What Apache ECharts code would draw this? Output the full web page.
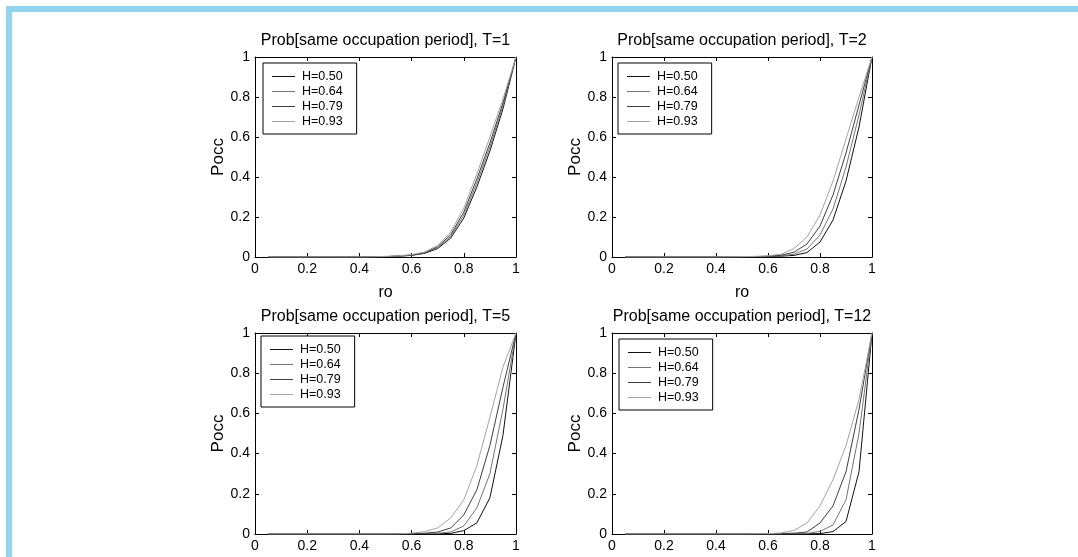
<!DOCTYPE html>
<html><head><meta charset="utf-8">
<script src="https://cdn.jsdelivr.net/npm/echarts@6/dist/echarts.min.js"></script>
<style>html,body{margin:0;padding:0;background:#fff}#c{width:1078px;height:557px}</style>
</head><body><div id="c"></div>
<script>
// ---- data ----
const ro = [0.05,0.10,0.15,0.20,0.25,0.30,0.35,0.40,0.45,0.50,0.55,0.60,0.65,0.70,0.75,0.80,0.85,0.90,0.95,1.00];
const hLabels = ['H=0.50','H=0.64','H=0.79','H=0.93'];
const panelTitles = ['Prob[same occupation period], T=1','Prob[same occupation period], T=2','Prob[same occupation period], T=5','Prob[same occupation period], T=12'];
const xName = 'ro';
const yName = 'Pocc';

const t1_h050 = [0,0,0,0,0,0,0,0,0.001,0.002,0.004,0.008,0.018,0.042,0.095,0.195,0.350,0.530,0.740,1];
const t1_h064 = [0,0,0,0,0,0,0,0,0.001,0.002,0.004,0.009,0.020,0.046,0.103,0.210,0.370,0.550,0.755,1];
const t1_h079 = [0,0,0,0,0,0,0,0,0.001,0.002,0.005,0.010,0.022,0.051,0.112,0.225,0.390,0.570,0.770,1];
const t1_h093 = [0,0,0,0,0,0,0,0,0.001,0.003,0.006,0.012,0.025,0.058,0.125,0.245,0.415,0.600,0.790,1];

const t2_h050 = [0,0,0,0,0,0,0,0,0,0.001,0.001,0.002,0.004,0.008,0.022,0.075,0.185,0.380,0.650,1];
const t2_h064 = [0,0,0,0,0,0,0,0,0,0.001,0.002,0.003,0.006,0.014,0.040,0.110,0.240,0.450,0.710,1];
const t2_h079 = [0,0,0,0,0,0,0,0,0,0.001,0.002,0.004,0.009,0.024,0.065,0.155,0.310,0.520,0.760,1];
const t2_h093 = [0,0,0,0,0,0,0,0,0.001,0.002,0.003,0.006,0.014,0.042,0.100,0.210,0.380,0.590,0.800,1];

const t5_h050 = [0,0,0,0,0,0,0,0,0,0,0,0,0.001,0.001,0.003,0.017,0.055,0.180,0.490,1];
const t5_h064 = [0,0,0,0,0,0,0,0,0,0,0,0.001,0.002,0.004,0.010,0.040,0.130,0.300,0.620,1];
const t5_h079 = [0,0,0,0,0,0,0,0,0,0,0.001,0.002,0.004,0.010,0.030,0.095,0.220,0.440,0.730,1];
const t5_h093 = [0,0,0,0,0,0,0,0,0,0,0.001,0.004,0.012,0.030,0.080,0.170,0.340,0.580,0.830,1];

const t12_h050 = [0,0,0,0,0,0,0,0,0,0,0,0,0,0,0.001,0.002,0.012,0.062,0.310,1];
const t12_h064 = [0,0,0,0,0,0,0,0,0,0,0,0,0,0.001,0.003,0.013,0.045,0.170,0.500,1];
const t12_h079 = [0,0,0,0,0,0,0,0,0,0,0,0.001,0.002,0.004,0.010,0.055,0.140,0.310,0.620,1];
const t12_h093 = [0,0,0,0,0,0,0,0,0,0,0.001,0.002,0.005,0.018,0.055,0.140,0.270,0.440,0.670,1];

const panels = [
  [t1_h050, t1_h064, t1_h079, t1_h093],
  [t2_h050, t2_h064, t2_h079, t2_h093],
  [t5_h050, t5_h064, t5_h079, t5_h093],
  [t12_h050, t12_h064, t12_h079, t12_h093]
];

// ---- styling / layout ----
const lineColors = ['#111111','#747474','#3e3e3e','#a3a3a3'];
const FONT = 'Liberation Sans, Arial, sans-serif';
const gridRects = [
  {left:255, top:57, width:261, height:200},
  {left:612, top:57, width:260, height:200},
  {left:255, top:333, width:261, height:201},
  {left:612, top:333, width:260, height:201}
];
const legendPos = [{left:263, top:63},{left:618, top:63},{left:261, top:336},{left:619, top:339}];

const axisCommon = {
  type:'value', min:0, max:1, interval:0.2,
  axisLine:{show:true, onZero:false, lineStyle:{color:'#000', width:1}},
  axisTick:{show:true, inside:true, length:4, lineStyle:{color:'#000'}},
  splitLine:{show:false}
};
const labelStyle = {show:true, color:'#000', fontSize:14, fontFamily:FONT, margin:5};

const xAxes = [], yAxes = [], series = [], legends = [];
gridRects.forEach((g, i) => {
  xAxes.push(Object.assign({}, axisCommon, {
    gridIndex:i, position:'bottom', axisLabel:labelStyle,
    name: i < 2 ? xName : '', nameLocation:'middle', nameGap:28,
    nameTextStyle:{color:'#000', fontSize:16, fontFamily:FONT}
  }));
  xAxes.push(Object.assign({}, axisCommon, {
    gridIndex:i, position:'top', axisLabel:{show:false},
    name: panelTitles[i], nameLocation:'middle', nameGap:8,
    nameTextStyle:{color:'#000', fontSize:16, fontFamily:FONT}
  }));
  yAxes.push(Object.assign({}, axisCommon, {
    gridIndex:i, position:'left', axisLabel:labelStyle,
    name: yName, nameLocation:'middle', nameGap:26, nameRotate:90,
    nameTextStyle:{color:'#000', fontSize:17, fontFamily:FONT}
  }));
  yAxes.push(Object.assign({}, axisCommon, {
    gridIndex:i, position:'right', axisLabel:{show:false}
  }));
  panels[i].forEach((vals, j) => {
    series.push({
      type:'line', name:hLabels[j], xAxisIndex:2*i, yAxisIndex:2*i,
      data: ro.map((x,k)=>[x, vals[k]]),
      showSymbol:false, symbol:'none', smooth:false,
      lineStyle:{width:1, color:lineColors[j]}, itemStyle:{color:lineColors[j]},
      emphasis:{disabled:true}, z:3
    });
  });
  legends.push({
    show:true, data:hLabels, orient:'vertical', left:legendPos[i].left, top:legendPos[i].top,
    icon:'rect', itemWidth:23, itemHeight:1, itemGap:0,
    padding:[6,14,5,9], borderColor:'#000', borderWidth:1, backgroundColor:'#fff',
    selectedMode:false,
    textStyle:{color:'#000', fontSize:12.5, fontFamily:FONT, lineHeight:15, padding:[0,0,0,2]}
  });
});

const chart = echarts.init(document.getElementById('c'), null, {renderer:'canvas'});
chart.setOption({
  animation:false,
  backgroundColor:'#fff',
  graphic:[
    {type:'rect', shape:{x:6, y:6, width:1072, height:6}, style:{fill:'#8fd5f0'}, silent:true},
    {type:'rect', shape:{x:6, y:6, width:6, height:551}, style:{fill:'#8fd5f0'}, silent:true}
  ],
  grid: gridRects.map(g => Object.assign({containLabel:false}, g)),
  xAxis: xAxes,
  yAxis: yAxes,
  legend: legends,
  tooltip:{show:false},
  series: series
});
</script>
</body></html>
